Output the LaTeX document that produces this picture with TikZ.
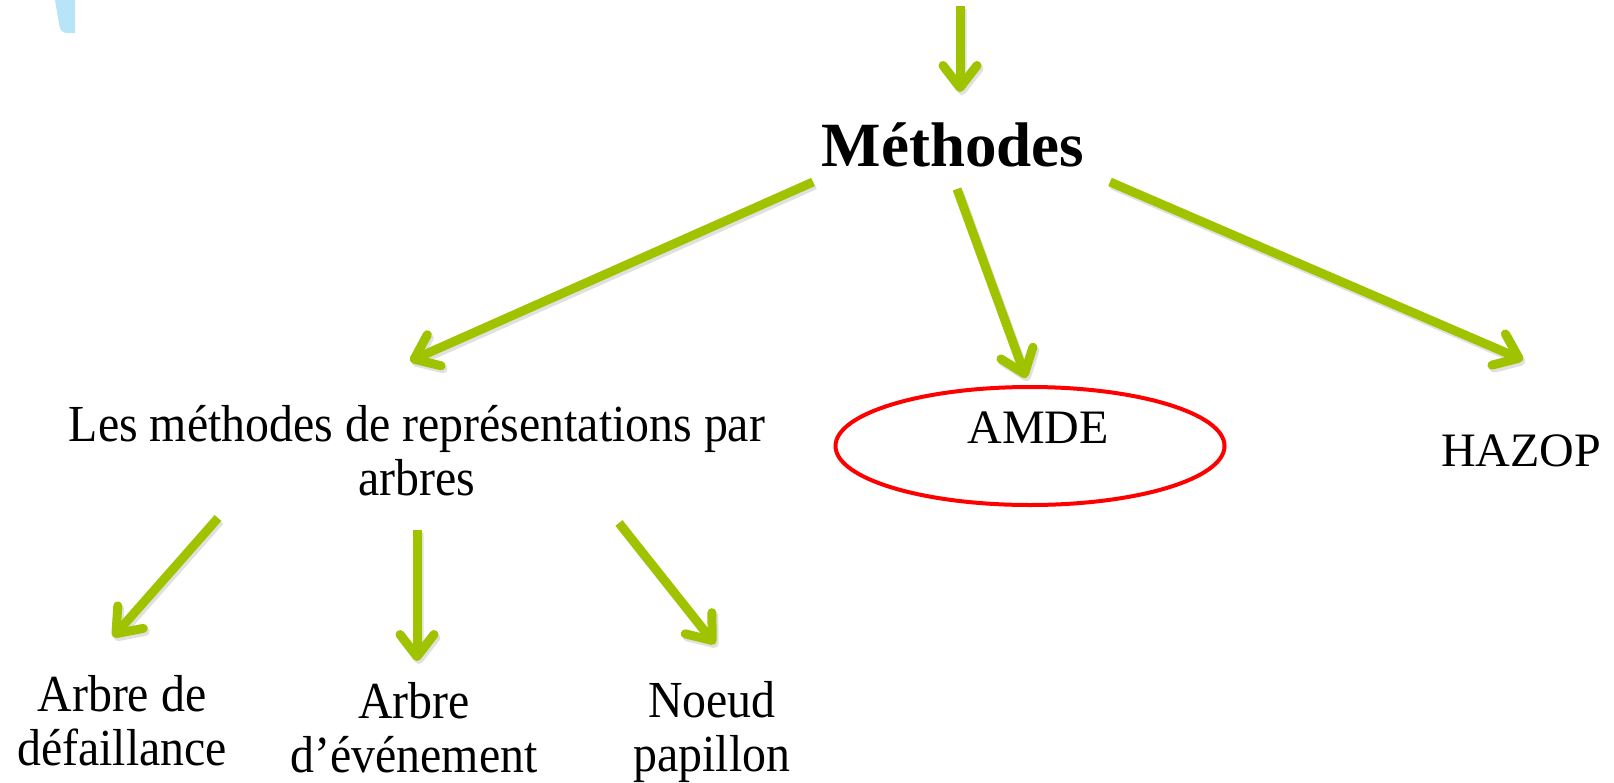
\documentclass[tikz,border=0pt]{standalone}
\usepackage{fontspec}
\setmainfont{Liberation Serif}
\newfontfamily\condfont[FakeStretch=0.92]{Liberation Serif}
\usetikzlibrary{arrows.meta,calc,shapes.geometric}
\definecolor{limegreen}{RGB}{160,195,0}
\definecolor{skyfill}{RGB}{183,228,248}
\begin{document}
\begin{tikzpicture}[x=1pt,y=-1pt,
  arr/.style={line width=9pt, draw=limegreen, line cap=butt,
    -{Straight Barb[length=22pt,width=34pt,round]}},
  shd/.style={line width=9pt, draw=black, line cap=butt,
    -{Straight Barb[length=22pt,width=34pt,round]}},
  txt/.style={font=\fontsize{48}{54}\selectfont, inner sep=0pt, anchor=base},
  ctxt/.style={font=\condfont\fontsize{52}{54}\selectfont, inner sep=0pt, anchor=base, align=center},
  ttl/.style={font=\fontsize{63}{66}\selectfont\bfseries, inner sep=0pt, anchor=base},
  ring/.style={ellipse, draw=red, line width=4pt, minimum width=389pt, minimum height=118pt, inner sep=0pt}
]
\path[use as bounding box] (0,0) rectangle (1614,782);
\fill[white] (0,0) rectangle (1614,782);
% light blue shape top left
\fill[skyfill] (55,0) -- (59,24) .. controls (60,30) and (62,33) .. (67,33) -- (75,33) -- (75,0) -- cycle;

% nodes (base = baseline of the last line)
\node[ttl] (meth) at (953,166) {Méthodes};
\node[ctxt] (tree) at (417,495) {Les méthodes de représentations par\\arbres};
\node[ring] (amdering) at (1030,446) {};
\node[txt] (amde) at (1038,443) {AMDE};
\node[txt] (hazop) at (1521,466) {HAZOP};
\node[ctxt] (fault) at (122,765) {Arbre de\\défaillance};
\node[ctxt] (event) at (414,772) {Arbre\\d’événement};
\node[ctxt] (bow) at (712,771) {Noeud\\papillon};
\coordinate (src) at (960,6);

% shadows
\begin{scope}[transparency group, opacity=0.12, transform canvas={shift={(2,3)}}]
\draw[shd] (src) -- ([shift={(7,-74)}]meth.base);
\draw[shd] ([shift={(-140,16)}]meth.base) -- ([shift={(-7,-134)}]tree.base);
\draw[shd] ([shift={(4,23)}]meth.base) -- ([shift={(-4,-7)}]amdering.north);
\draw[shd] ([shift={(157,16)}]meth.base) -- ([shift={(2,-106)}]hazop.base);
\draw[shd] ([shift={(-199,23)}]tree.base) -- ([shift={(-9,-128)}]fault.base);
\draw[shd] ([shift={(0,35)}]tree.base) -- ([shift={(3,-111)}]event.base);
\draw[shd] ([shift={(202,28)}]tree.base) -- ([shift={(3,-127)}]bow.base);
\end{scope}

% arrows
\draw[arr] (src) -- ([shift={(7,-74)}]meth.base);
\draw[arr] ([shift={(-140,16)}]meth.base) -- ([shift={(-7,-134)}]tree.base);
\draw[arr] ([shift={(4,23)}]meth.base) -- ([shift={(-4,-7)}]amdering.north);
\draw[arr] ([shift={(157,16)}]meth.base) -- ([shift={(2,-106)}]hazop.base);
\draw[arr] ([shift={(-199,23)}]tree.base) -- ([shift={(-9,-128)}]fault.base);
\draw[arr] ([shift={(0,35)}]tree.base) -- ([shift={(3,-111)}]event.base);
\draw[arr] ([shift={(202,28)}]tree.base) -- ([shift={(3,-127)}]bow.base);
\end{tikzpicture}
\end{document}
